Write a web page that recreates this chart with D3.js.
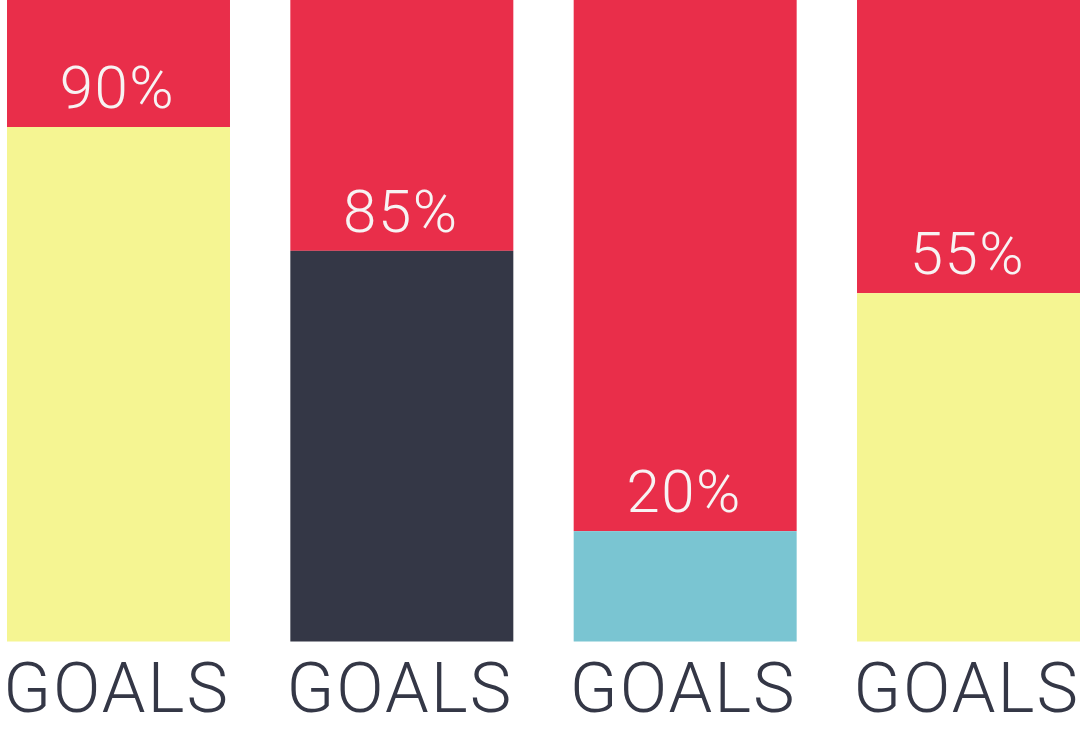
<!DOCTYPE html>
<html>
<head>
<meta charset="utf-8">
<script src="https://cdn.jsdelivr.net/npm/d3@7"></script>
<style>
  html,body{margin:0;padding:0;background:#fff;}
  svg{display:block;}
</style>
</head>
<body>
<div id="chart"></div>
<script>
// data
const categories=["GOALS","GOALS","GOALS","GOALS"];
const labels=["90%","85%","20%","55%"];
const fillLevels=[80.2,60.9,17.2,54.3];
const fillColors=["#f5f592","#343746","#7ac5d2","#f5f592"];

const width=1080,height=731;
const barBottom=641.5;

const svg=d3.select("#chart")
    .append("svg")
    .attr("width",width)
    .attr("height",height);

const x=d3.scaleBand()
    .domain(d3.range(categories.length))
    .range([7,1080])
    .paddingInner(0.213)
    .paddingOuter(0);

const y=d3.scaleLinear()
    .domain([0,100])
    .range([barBottom,0]);

const bars=svg.selectAll(".bar")
    .data(categories)
    .enter()
    .append("g")
    .attr("class","bar")
    .attr("transform",(d,i)=>`translate(${x(i)},0)`);

// red part above the level
bars.append("rect")
    .attr("y",y(100))
    .attr("width",x.bandwidth())
    .attr("height",(d,i)=>y(fillLevels[i])-y(100))
    .attr("fill","#e92e4a");

// fill level
bars.append("rect")
    .attr("y",(d,i)=>y(fillLevels[i]))
    .attr("width",x.bandwidth())
    .attr("height",(d,i)=>y(0)-y(fillLevels[i]))
    .attr("fill",(d,i)=>fillColors[i]);

bars.append("text")
    .attr("x",x.bandwidth()/2-1)
    .attr("y",(d,i)=>y(fillLevels[i])-19)
    .attr("text-anchor","middle")
    .attr("font-family","Roboto, 'Liberation Sans', sans-serif")
    .attr("font-weight",300)
    .attr("font-size",60)
    .attr("letter-spacing",1.5)
    .attr("fill","#f7f3f3")
    .text((d,i)=>labels[i]);

bars.append("text")
    .attr("x",x.bandwidth()/2-2)
    .attr("y",712)
    .attr("text-anchor","middle")
    .attr("font-family","Roboto, 'Liberation Sans', sans-serif")
    .attr("font-weight",300)
    .attr("font-size",70)
    .attr("letter-spacing",2)
    .attr("fill","#343746")
    .text(d=>d);
</script>
</body>
</html>
